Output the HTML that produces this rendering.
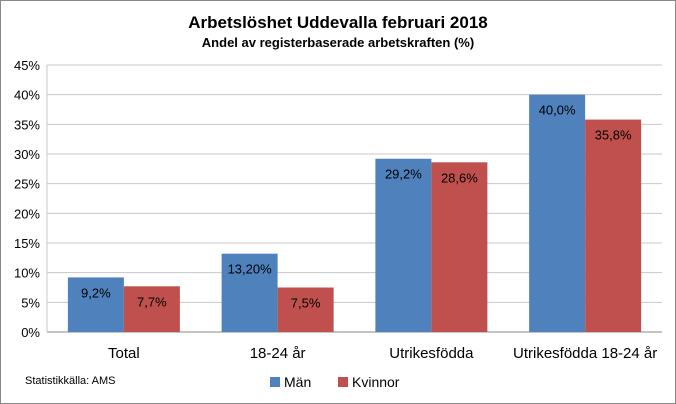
<!DOCTYPE html>
<html><head><meta charset="utf-8"><style>
body{margin:0;background:#fff}
svg{display:block;font-family:"Liberation Sans",Calibri,sans-serif}
</style></head><body>
<svg width="676" height="404" viewBox="0 0 676 404">
<rect x="0.5" y="0.5" width="675" height="403" fill="#fff" stroke="#888"/>
<text x="338" y="28" text-anchor="middle" font-size="17" font-weight="bold">Arbetslöshet Uddevalla februari 2018</text>
<text x="338" y="47" text-anchor="middle" font-size="13" font-weight="bold">Andel av registerbaserade arbetskraften (%)</text>
<g id="grid"></g><g id="bars"></g><g id="labels"></g>
<text x="25" y="384" font-size="11">Statistikkälla: AMS</text>
<g>
<rect x="270" y="377" width="10" height="10" fill="#4f81bd"/>
<text x="284" y="387" font-size="14">Män</text>
<rect x="338" y="377" width="10" height="10" fill="#c0504d"/>
<text x="352" y="387" font-size="14">Kvinnor</text>
</g>
</svg>
<script>
const categories=["Total","18-24 år","Utrikesfödda","Utrikesfödda 18-24 år"];
const men=[9.2,13.2,29.2,40.0];
const women=[7.7,7.5,28.6,35.8];
const menLabels=["9,2%","13,20%","29,2%","40,0%"];
const womenLabels=["7,7%","7,5%","28,6%","35,8%"];
const ticks=[0,5,10,15,20,25,30,35,40,45];
const NS="http://www.w3.org/2000/svg";
const L=47,R=662,T=65,B=332,MAX=45;
const y=v=>B-(v/MAX)*(B-T);
const cw=(R-L)/categories.length;
const g=document.getElementById('grid'),bg=document.getElementById('bars'),lg=document.getElementById('labels');
function mk(tag,attrs,parent){const e=document.createElementNS(NS,tag);for(const k in attrs)e.setAttribute(k,attrs[k]);parent.appendChild(e);return e;}
ticks.forEach(t=>{
 const ln=mk('line',{x1:L,x2:R,y1:y(t),y2:y(t),stroke:t===0?'#888':'#c8c8c8'},g);
 
 
 const tx=mk('text',{x:L-7,y:y(t)+5,'text-anchor':'end','font-size':13},g);
 tx.textContent=t+'%';
 
 
});
const ax=mk('line',{x1:L,x2:L,y1:T,y2:B,stroke:'#c8c8c8'},g);


const bw=56;
categories.forEach((c,i)=>{
 const x0=L+i*cw+(cw-2*bw)/2;
 [[men,'#4f81bd',menLabels,'bar-man'],[women,'#c0504d',womenLabels,'bar-kvinnor']].forEach((s,j)=>{
  const v=s[0][i],bx=x0+j*bw;
  const r=mk('rect',{x:bx,y:y(v),width:bw,height:B-y(v),fill:s[1]},bg);
  
  
  const t=mk('text',{x:bx+bw/2,y:y(v)+20,'text-anchor':'middle','font-size':13},lg);
  t.textContent=s[2][i];
  
  
 });
 const ct=mk('text',{x:L+i*cw+cw/2,y:358,'text-anchor':'middle','font-size':15},lg);
 ct.textContent=c;
 
 
});
</script>
</body></html>
